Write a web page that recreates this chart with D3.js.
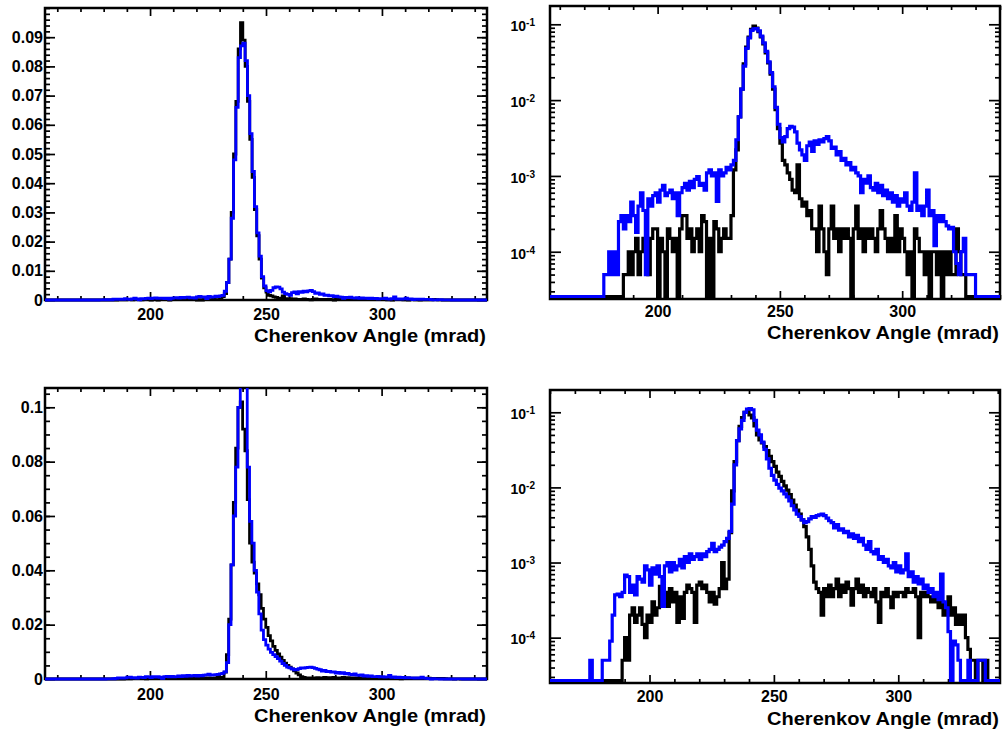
<!DOCTYPE html>
<html>
<head>
<meta charset="utf-8">
<script src="https://cdn.jsdelivr.net/npm/d3@7"></script>
<style>
  body { margin: 0; background: #fff; }
  svg text { font-family: "Liberation Sans", Arial, Helvetica, sans-serif; font-weight: bold; fill: #000; }
</style>
</head>
<body>
<svg id="fig" width="1002" height="734"></svg>
<script>
// histograms: 1 mrad bins, first bin starts at binStart (all bins outside are empty)
var binStart = 175;

// upper row (linear + log of the same two histograms)
var topBlack = [
  0,0,0,0,0,0,0,0,0,0,                                                   // 175
  0,5e-5,5e-5,1e-4,5e-5,1e-4,1.5e-4,5e-5,1e-4,1.5e-4,                    // 185
  1e-4,5e-5,1.5e-4,2e-4,2e-4,0,1.5e-4,1e-4,0,2e-4,                       // 195
  1.5e-4,1e-4,1.5e-4,0,2e-4,3e-4,3e-4,1.5e-4,2e-4,1e-4,                  // 205
  1.5e-4,2e-4,1e-4,3e-4,2.5e-4,0,1.5e-4,0,2.5e-4,2e-4,                   // 215
  1e-4,1.5e-4,2e-4,1.5e-4,1.5e-4,3e-4,1.2e-3,2.2e-3,0.006,0.014,         // 225
  0.03,0.05,0.068,0.086,0.095,0.089,0.08,0.068,0.055,0.042,              // 235
  0.031,0.022,0.014,0.0075,0.0042,0.0027,0.0016,0.0014,0.0011,9e-4,      // 245
  6.5e-4,6e-4,1.4e-3,5e-4,4e-4,4.5e-4,3e-4,3.5e-4,2e-4,2e-4,             // 255
  1e-4,4e-4,2e-4,1e-4,5e-5,2e-4,4e-4,1.5e-4,2e-4,1e-4,                   // 265
  2e-4,1.5e-4,2e-4,1.5e-4,0,2e-4,4e-4,1.5e-4,2e-4,1e-4,                  // 275
  2e-4,1.5e-4,2e-4,1.5e-4,1e-4,2e-4,3.5e-4,2e-4,1.5e-4,1e-4,             // 285
  1.5e-4,1e-4,3e-4,1e-4,2e-4,1.5e-4,1e-4,5e-5,1e-4,0,                    // 295
  2e-4,1.5e-4,1e-4,1e-4,5e-5,1e-4,0,1e-4,1e-4,5e-5,                      // 305
  1e-4,0,1e-4,5e-5,1e-4,5e-5,5e-5,2e-4,1e-4,5e-5,                        // 315
  5e-5,0,0,0,0,0,0,0,0,0                                                 // 325
];
var topBlue = [
  0,0,0,5e-5,5e-5,1e-4,5e-5,1e-4,5e-5,2.5e-4,
  3e-4,2e-4,3e-4,2.5e-4,4.5e-4,3e-4,1.8e-4,4e-4,6e-4,3.5e-4,
  5e-5,5e-4,4e-4,5.5e-4,6e-4,4.5e-4,6.5e-4,7.5e-4,5.5e-4,6e-4,
  6.5e-4,5e-4,6e-4,3e-4,6e-4,7e-4,8e-4,6.5e-4,8.5e-4,7e-4,
  9e-4,9.8e-4,7.5e-4,8e-4,6.5e-4,1.1e-3,1.2e-3,1e-3,1.1e-3,4.6e-4,
  1.2e-3,1e-3,1.1e-3,1.3e-3,1.2e-3,1.4e-3,1.6e-3,3e-3,0.006,0.014,
  0.028,0.048,0.066,0.083,0.087,0.088,0.082,0.07,0.057,0.044,
  0.032,0.023,0.015,0.008,0.0048,0.0032,0.0028,0.0033,0.0042,0.0045,
  0.0044,0.0038,0.0027,0.0022,0.0019,0.0016,0.0025,0.0028,0.0021,0.0029,
  0.0026,0.003,0.0028,0.0031,0.0033,0.0029,0.0023,0.0024,0.0019,0.0021,
  0.0016,0.0017,0.0014,0.0015,0.0012,0.0013,0.0011,0.001,6e-4,9e-4,
  8e-4,1e-3,7e-4,6.5e-4,8e-4,6e-4,7.5e-4,5.5e-4,6.5e-4,5e-4,
  6e-4,4.5e-4,5.5e-4,4e-4,5e-4,4.5e-4,6e-4,4e-4,3.5e-4,4.5e-4,
  1.1e-3,3.5e-4,4e-4,3e-4,4e-4,6.5e-4,3e-4,3.5e-4,1.2e-4,3e-4,
  2.5e-4,3e-4,2.5e-4,2.2e-4,2e-4,2.1e-4,1e-4,7e-5,5e-5,1e-4,
  1.5e-4,5e-5,5e-5,5e-5,5e-5,0,0,0,0,0
];

// lower row
var botBlack = [
  0,0,0,0,0,0,0,0,0,0,
  0,0,0,0,5e-5,1e-4,5e-5,2e-4,2.5e-4,1.6e-4,
  2e-4,2.5e-4,1.5e-4,1e-4,2e-4,1.6e-4,3e-4,2e-4,2.5e-4,4.8e-4,
  3.5e-4,4e-4,2.6e-4,4.5e-4,3e-4,4e-4,1.6e-4,3.5e-4,1.8e-4,4e-4,
  5e-4,4.5e-4,4e-4,1.6e-4,5e-4,5.5e-4,4.5e-4,5e-4,4e-4,3e-4,
  4e-4,2.8e-4,3.5e-4,4.5e-4,1e-3,4.5e-4,6e-4,2.5e-3,0.009,0.022,
  0.042,0.065,0.085,0.1,0.102,0.092,0.084,0.066,0.05,0.043,
  0.039,0.035,0.031,0.026,0.022,0.019,0.016,0.014,0.012,0.0105,
  0.0092,0.008,0.0068,0.0058,0.005,0.0044,0.0037,0.003,0.0022,0.0015,
  9e-4,5.5e-4,4.5e-4,4e-4,2e-4,4.5e-4,3.5e-4,5e-4,3.5e-4,4.5e-4,
  6e-4,3.5e-4,5e-4,4e-4,5.5e-4,4.5e-4,2.7e-4,4.5e-4,6e-4,4e-4,
  5e-4,3.5e-4,4.5e-4,4e-4,3.5e-4,4.5e-4,3e-4,1.6e-4,4e-4,3.5e-4,
  4.5e-4,3.5e-4,2.5e-4,4e-4,3.5e-4,4e-4,4e-4,3.5e-4,4.5e-4,4e-4,
  4e-4,4.5e-4,3.5e-4,1e-4,4e-4,3.5e-4,4e-4,3.5e-4,3e-4,3.5e-4,
  3e-4,2.5e-4,3e-4,2e-4,2.5e-4,3.5e-4,2e-4,2.5e-4,1.5e-4,2e-4,
  1.5e-4,2e-4,1e-4,7e-5,5e-5,5e-5,0,5e-5,5e-5,0,
  5e-5,0
];
var botBlue = [
  0,5e-5,0,0,0,0,5e-5,5e-5,5e-5,9e-5,
  2e-4,3.7e-4,3.8e-4,3.5e-4,4e-4,6.8e-4,6.5e-4,4e-4,5e-4,3.7e-4,
  6.5e-4,6e-4,5.5e-4,9e-4,8e-4,5e-4,8.5e-4,7e-4,9e-4,6.5e-4,
  2.6e-4,9e-4,1e-3,7.5e-4,1e-3,8e-4,9e-4,1.1e-3,8.5e-4,1.2e-3,
  1e-3,1.3e-3,1.1e-3,1.2e-3,1.3e-3,1.1e-3,1.3e-3,1.2e-3,1.4e-3,1.5e-3,
  1.8e-3,1.4e-3,1.5e-3,1.6e-3,1.7e-3,1.9e-3,2.1e-3,2.6e-3,0.006,0.02,
  0.042,0.06,0.078,0.1,0.11,0.112,0.108,0.078,0.058,0.05,
  0.04,0.032,0.024,0.018,0.0145,0.0125,0.011,0.0098,0.009,0.0082,
  0.0075,0.0066,0.0057,0.005,0.0044,0.0041,0.0037,0.0034,0.0035,0.0038,
  0.0041,0.004,0.0042,0.0043,0.0044,0.0042,0.0039,0.0036,0.0034,0.0029,
  0.0032,0.0027,0.0028,0.0025,0.0026,0.0022,0.0024,0.0021,0.0023,0.0019,
  0.0021,0.0017,0.0015,0.0019,0.0014,0.0013,0.0015,0.0011,0.0012,0.001,
  0.0011,9e-4,8.5e-4,1e-3,7.5e-4,9e-4,7.3e-4,8e-4,1.3e-3,6.5e-4,
  7.5e-4,5.5e-4,6.5e-4,5.2e-4,6e-4,4.5e-4,5e-4,4e-4,4.5e-4,3.5e-4,
  4e-4,3.2e-4,7e-4,3e-4,2.5e-4,1.2e-4,0,9e-5,8e-5,5e-5,
  0,0,0,5e-5,0,0,0,5e-5,5e-5,5e-5
];

// axis labels and ticks
var xTitle = "Cherenkov Angle (mrad)";
var xMajorTicks = [200, 250, 300];
var xMinorTicks = [160, 170, 180, 190, 210, 220, 230, 240, 260, 270, 280, 290, 310, 320, 330, 340];
var topLinTicks = [0, 0.01, 0.02, 0.03, 0.04, 0.05, 0.06, 0.07, 0.08, 0.09];
var botLinTicks = [0, 0.02, 0.04, 0.06, 0.08, 0.1];
var logTicks = [1e-1, 1e-2, 1e-3, 1e-4];

var panels = [
  { x0: 45,  x1: 487,  y0: 8,   y1: 300, xDom: [154.7, 345.3], log: false, yDom: [0, 0.1],
    black: topBlack, blue: topBlue, yTicks: topLinTicks, yMinorStep: 0.002, xPad: 9, titleY: 342 },
  { x0: 550, x1: 1000, y0: 6,   y1: 299, xDom: [156, 340], log: true, yDom: [2.38e-5, 0.1743],
    black: topBlack, blue: topBlue, yTicks: logTicks, xPad: 7, titleY: 339 },
  { x0: 45,  x1: 487,  y0: 388, y1: 679, xDom: [154.7, 345.5], log: false, yDom: [0, 0.1071],
    black: botBlack, blue: botBlue, yTicks: botLinTicks, yMinorStep: 0.005, xPad: 10, titleY: 722 },
  { x0: 550, x1: 1000, y0: 390, y1: 683, xDom: [160, 340.9], log: true, yDom: [2.49e-5, 0.198],
    black: botBlack, blue: botBlue, yTicks: logTicks, xPad: 8, titleY: 725 }
];

var svg = d3.select("#fig");

function styleAxis(g) {
  g.select(".domain").remove();
  g.selectAll(".tick line").attr("stroke", "#000").attr("stroke-width", 1.7);
  g.selectAll(".tick text").attr("fill", "#000").attr("font-size", 16)
    .attr("font-family", "Liberation Sans, Arial, sans-serif").attr("font-weight", "bold");
}

function histPoints(values, xDom) {
  var pts = [[xDom[0], 0]];
  values.forEach(function(v, i) { pts.push([binStart + i, v]); });
  pts.push([binStart + values.length, 0]);
  pts.push([xDom[1], 0]);
  return pts;
}

panels.forEach(function(p, pi) {
  var w = p.x1 - p.x0, h = p.y1 - p.y0;
  var g = svg.append("g").attr("transform", "translate(" + p.x0 + "," + p.y0 + ")");

  var x = d3.scaleLinear().domain(p.xDom).range([0, w]);
  var y = p.log ? d3.scaleLog().domain(p.yDom).range([h, 0])
                : d3.scaleLinear().domain(p.yDom).range([h, 0]);

  // minor y ticks
  var yMinor = [];
  if (p.log) {
    [-5, -4, -3, -2, -1].forEach(function(e) {
      for (var m = 2; m <= 9; m++) {
        var v = m * Math.pow(10, e);
        if (v > p.yDom[0] && v < p.yDom[1]) yMinor.push(v);
      }
    });
  } else {
    var n = Math.floor(p.yDom[1] / p.yMinorStep + 1e-6);
    for (var k = 1; k <= n; k++) yMinor.push(k * p.yMinorStep);
  }
  var majLen = p.log ? 11 : 10, minLen = 5;

  // bottom axis with labels
  g.append("g").attr("transform", "translate(0," + h + ")")
    .call(d3.axisBottom(x).tickValues(xMajorTicks).tickSize(-8).tickPadding(p.xPad).tickFormat(d3.format("d")))
    .call(styleAxis);
  g.append("g").attr("transform", "translate(0," + h + ")")
    .call(d3.axisBottom(x).tickValues(xMinorTicks).tickSize(-4).tickFormat(""))
    .call(styleAxis);
  // top axis
  g.append("g")
    .call(d3.axisTop(x).tickValues(xMajorTicks).tickSize(-8).tickFormat(""))
    .call(styleAxis);
  g.append("g")
    .call(d3.axisTop(x).tickValues(xMinorTicks).tickSize(-4).tickFormat(""))
    .call(styleAxis);

  // left axis
  var left = g.append("g")
    .call(d3.axisLeft(y).tickValues(p.yTicks).tickSize(-majLen).tickPadding(p.log ? 15 : 2)
      .tickFormat(p.log ? function(d) { return d; } : function(d) { return d === 0 ? "0" : d3.format("")(+d.toFixed(3)); }))
    .call(styleAxis);
  if (p.log) {
    left.selectAll(".tick text").text(null).attr("font-size", 14).attr("dy", "0.45em").each(function(d) {
      var t = d3.select(this);
      t.append("tspan").text("10");
      t.append("tspan").attr("dy", "-0.5em").attr("font-size", 10)
        .text(String(Math.round(Math.log10(d))));
    });
  }
  g.append("g")
    .call(d3.axisLeft(y).tickValues(yMinor).tickSize(-minLen).tickFormat(""))
    .call(styleAxis);
  // right axis
  g.append("g").attr("transform", "translate(" + w + ",0)")
    .call(d3.axisRight(y).tickValues(p.yTicks).tickSize(-majLen).tickFormat(""))
    .call(styleAxis);
  g.append("g").attr("transform", "translate(" + w + ",0)")
    .call(d3.axisRight(y).tickValues(yMinor).tickSize(-minLen).tickFormat(""))
    .call(styleAxis);

  // frame
  g.append("rect").attr("width", w).attr("height", h)
    .attr("fill", "none").attr("stroke", "#000").attr("stroke-width", 2.5);

  // histograms
  var clipId = "clip" + pi;
  g.append("clipPath").attr("id", clipId)
    .append("rect").attr("x", 0).attr("y", 0).attr("width", w).attr("height", h + 2);

  var line = d3.line()
    .x(function(d) { return x(d[0]); })
    .y(function(d) {
      if (p.log) return d[1] > p.yDom[0] ? y(d[1]) : h - 2.5;
      return y(d[1]);
    })
    .curve(d3.curveStepAfter);

  [["#000000", p.black], ["#0000ff", p.blue]].forEach(function(s) {
    g.append("path")
      .attr("clip-path", "url(#" + clipId + ")")
      .attr("d", line(histPoints(s[1], p.xDom)))
      .attr("fill", "none")
      .attr("stroke", s[0])
      .attr("stroke-width", p.log ? 3.2 : 2.8);
  });

  // x title
  svg.append("text")
    .attr("x", p.x1 - 1).attr("y", p.titleY)
    .attr("text-anchor", "end")
    .attr("font-size", 19)
    .attr("textLength", 232).attr("lengthAdjust", "spacingAndGlyphs")
    .text(xTitle);
});
</script>
</body>
</html>
